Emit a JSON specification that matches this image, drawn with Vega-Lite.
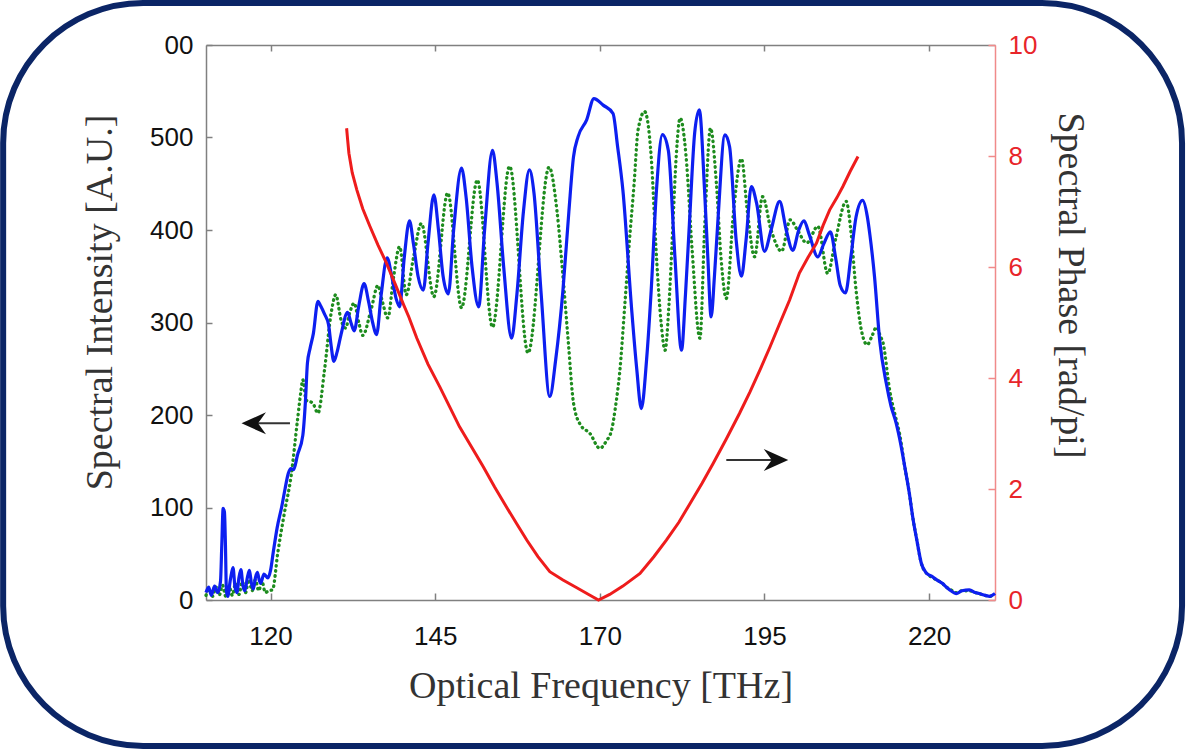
{
  "$schema": "https://vega.github.io/schema/vega-lite/v6.json",
  "width": 789,
  "height": 555,
  "padding": 0,
  "autosize": {"type": "pad"},
  "background": "white",
  "config": {
    "view": {"stroke": null},
    "axis": {
      "grid": false,
      "labelFont": "Liberation Sans",
      "labelFontSize": 26,
      "labelColor": "#111111",
      "titleFont": "Liberation Serif",
      "titleFontSize": 38,
      "titleFontWeight": "normal",
      "titleColor": "#333333",
      "domainColor": "#808080",
      "domainWidth": 1.5,
      "tickColor": "#808080",
      "tickWidth": 1.5
    }
  },
  "datasets": {
    "blue": [
      {"f": 110.2, "I": 8}, {"f": 110.6, "I": 14}, {"f": 111.0, "I": 5}, {"f": 111.5, "I": 15}, {"f": 112.0, "I": 8},
      {"f": 112.4, "I": 20}, {"f": 112.6, "I": 60}, {"f": 112.8, "I": 99}, {"f": 113.0, "I": 95}, {"f": 113.15, "I": 60},
      {"f": 113.3, "I": 10}, {"f": 113.5, "I": 4}, {"f": 113.9, "I": 22}, {"f": 114.3, "I": 35}, {"f": 114.6, "I": 14},
      {"f": 114.9, "I": 8}, {"f": 115.2, "I": 24}, {"f": 115.5, "I": 33}, {"f": 115.8, "I": 16}, {"f": 116.1, "I": 10},
      {"f": 116.5, "I": 25}, {"f": 116.8, "I": 32}, {"f": 117.1, "I": 18}, {"f": 117.4, "I": 12}, {"f": 117.7, "I": 24},
      {"f": 118.0, "I": 30}, {"f": 118.3, "I": 21}, {"f": 118.5, "I": 18}, {"f": 119.0, "I": 28}, {"f": 119.6, "I": 24},
      {"f": 120.0, "I": 32}, {"f": 120.4, "I": 51},
      {"f": 121.0, "I": 78}, {"f": 121.7, "I": 101}, {"f": 122.2, "I": 120}, {"f": 122.7, "I": 137}, {"f": 123.1, "I": 142},
      {"f": 123.5, "I": 141}, {"f": 124.1, "I": 157}, {"f": 124.9, "I": 178}, {"f": 125.3, "I": 215}, {"f": 125.6, "I": 256},
      {"f": 126.0, "I": 272}, {"f": 126.5, "I": 288}, {"f": 127.2, "I": 323}, {"f": 127.6, "I": 318}, {"f": 128.2, "I": 309},
      {"f": 128.8, "I": 298}, {"f": 129.2, "I": 275}, {"f": 129.6, "I": 258}, {"f": 130.1, "I": 268}, {"f": 130.7, "I": 287},
      {"f": 131.7, "I": 311}, {"f": 132.2, "I": 300}, {"f": 132.7, "I": 291}, {"f": 133.4, "I": 318}, {"f": 134.2, "I": 342},
      {"f": 134.9, "I": 322}, {"f": 135.5, "I": 300}, {"f": 136.1, "I": 287}, {"f": 136.8, "I": 330}, {"f": 137.7, "I": 370},
      {"f": 138.4, "I": 350}, {"f": 139.1, "I": 325}, {"f": 139.6, "I": 317}, {"f": 140.3, "I": 370}, {"f": 141.1, "I": 410},
      {"f": 141.7, "I": 385}, {"f": 142.4, "I": 350}, {"f": 143.2, "I": 335}, {"f": 143.9, "I": 385}, {"f": 144.8, "I": 438},
      {"f": 145.5, "I": 400}, {"f": 146.2, "I": 350}, {"f": 147.0, "I": 331}, {"f": 147.8, "I": 400}, {"f": 149.0, "I": 467},
      {"f": 149.7, "I": 435}, {"f": 150.6, "I": 360}, {"f": 151.6, "I": 317}, {"f": 152.5, "I": 400}, {"f": 153.7, "I": 486},
      {"f": 154.4, "I": 450}, {"f": 155.4, "I": 360}, {"f": 156.6, "I": 283}, {"f": 157.4, "I": 330}, {"f": 158.4, "I": 420},
      {"f": 159.3, "I": 465}, {"f": 160.0, "I": 440}, {"f": 161.1, "I": 330}, {"f": 162.4, "I": 220}, {"f": 163.3, "I": 260},
      {"f": 164.4, "I": 335}, {"f": 165.3, "I": 420}, {"f": 166.0, "I": 479}, {"f": 166.7, "I": 501}, {"f": 168.0, "I": 519},
      {"f": 169.1, "I": 542}, {"f": 170.5, "I": 535}, {"f": 172.0, "I": 526}, {"f": 172.7, "I": 490}, {"f": 173.5, "I": 443},
      {"f": 174.8, "I": 317}, {"f": 175.6, "I": 250}, {"f": 176.3, "I": 207}, {"f": 177.1, "I": 260}, {"f": 177.8, "I": 335},
      {"f": 178.6, "I": 443}, {"f": 179.5, "I": 503}, {"f": 180.4, "I": 486}, {"f": 181.4, "I": 371}, {"f": 182.4, "I": 270},
      {"f": 183.0, "I": 330}, {"f": 183.6, "I": 407}, {"f": 184.4, "I": 505}, {"f": 185.1, "I": 530}, {"f": 185.9, "I": 443},
      {"f": 186.4, "I": 370}, {"f": 186.9, "I": 306}, {"f": 187.4, "I": 350}, {"f": 187.9, "I": 407}, {"f": 189.0, "I": 503},
      {"f": 189.7, "I": 490}, {"f": 190.7, "I": 389}, {"f": 191.5, "I": 350}, {"f": 192.2, "I": 389}, {"f": 193.0, "I": 447},
      {"f": 193.8, "I": 429}, {"f": 195.0, "I": 377}, {"f": 196.0, "I": 400}, {"f": 197.3, "I": 431}, {"f": 198.3, "I": 400},
      {"f": 199.3, "I": 378}, {"f": 200.2, "I": 400}, {"f": 201.0, "I": 410}, {"f": 201.8, "I": 395}, {"f": 203.1, "I": 371},
      {"f": 204.0, "I": 385}, {"f": 205.0, "I": 398}, {"f": 205.8, "I": 370}, {"f": 206.5, "I": 340}, {"f": 207.3, "I": 332},
      {"f": 208.1, "I": 370}, {"f": 208.9, "I": 414}, {"f": 209.9, "I": 432}, {"f": 210.6, "I": 415}, {"f": 211.0, "I": 395},
      {"f": 211.7, "I": 350}, {"f": 212.5, "I": 280}, {"f": 213.5, "I": 234}, {"f": 214.2, "I": 210}, {"f": 215.0, "I": 191},
      {"f": 215.7, "I": 168}, {"f": 216.3, "I": 144}, {"f": 217.0, "I": 115}, {"f": 217.5, "I": 90}, {"f": 218.2, "I": 62},
      {"f": 218.8, "I": 40}, {"f": 219.6, "I": 29}, {"f": 220.3, "I": 26}, {"f": 221.1, "I": 22}, {"f": 222.0, "I": 18},
      {"f": 222.6, "I": 14}, {"f": 223.3, "I": 10}, {"f": 224.1, "I": 7}, {"f": 225.0, "I": 10}, {"f": 226.1, "I": 11},
      {"f": 227.0, "I": 8}, {"f": 227.6, "I": 7}, {"f": 228.5, "I": 5}, {"f": 229.2, "I": 4}, {"f": 230.0, "I": 7}
    ],
    "green": [
      {"f": 110.2, "I": 5}, {"f": 110.7, "I": 12}, {"f": 111.2, "I": 4}, {"f": 111.7, "I": 14}, {"f": 112.2, "I": 5},
      {"f": 112.7, "I": 16}, {"f": 113.2, "I": 4}, {"f": 113.7, "I": 15}, {"f": 114.2, "I": 5}, {"f": 114.7, "I": 18},
      {"f": 115.2, "I": 6}, {"f": 115.7, "I": 20}, {"f": 116.2, "I": 8}, {"f": 116.7, "I": 22}, {"f": 117.2, "I": 10},
      {"f": 117.7, "I": 22}, {"f": 118.2, "I": 10}, {"f": 118.7, "I": 20}, {"f": 119.2, "I": 8}, {"f": 119.7, "I": 10},
      {"f": 120.3, "I": 11}, {"f": 121.1, "I": 51}, {"f": 122.1, "I": 94}, {"f": 123.1, "I": 133}, {"f": 124.1, "I": 195},
      {"f": 124.6, "I": 225}, {"f": 124.9, "I": 238}, {"f": 125.4, "I": 216}, {"f": 126.4, "I": 213}, {"f": 127.2, "I": 202},
      {"f": 128.2, "I": 249}, {"f": 129.2, "I": 310}, {"f": 129.9, "I": 330}, {"f": 130.7, "I": 303}, {"f": 131.4, "I": 294},
      {"f": 132.0, "I": 310}, {"f": 132.7, "I": 321}, {"f": 133.4, "I": 300}, {"f": 134.0, "I": 286}, {"f": 135.3, "I": 315},
      {"f": 136.3, "I": 340}, {"f": 137.0, "I": 322}, {"f": 137.8, "I": 305}, {"f": 138.7, "I": 350}, {"f": 139.6, "I": 382},
      {"f": 140.6, "I": 330}, {"f": 141.7, "I": 370}, {"f": 142.9, "I": 407}, {"f": 144.8, "I": 328}, {"f": 146.9, "I": 440},
      {"f": 149.0, "I": 316}, {"f": 151.4, "I": 454}, {"f": 153.7, "I": 295}, {"f": 156.3, "I": 469}, {"f": 159.1, "I": 267},
      {"f": 162.3, "I": 468}, {"f": 163.5, "I": 420}, {"f": 164.4, "I": 350}, {"f": 165.2, "I": 280}, {"f": 166.0, "I": 213},
      {"f": 167.0, "I": 190}, {"f": 168.5, "I": 180}, {"f": 170.0, "I": 164}, {"f": 171.0, "I": 172}, {"f": 171.8, "I": 184},
      {"f": 172.4, "I": 210}, {"f": 173.0, "I": 245}, {"f": 173.8, "I": 320}, {"f": 174.5, "I": 389}, {"f": 175.2, "I": 450},
      {"f": 175.8, "I": 508}, {"f": 176.8, "I": 528}, {"f": 177.8, "I": 479}, {"f": 178.6, "I": 371}, {"f": 179.3, "I": 300},
      {"f": 179.9, "I": 270}, {"f": 180.5, "I": 320}, {"f": 181.1, "I": 407}, {"f": 181.6, "I": 480}, {"f": 182.2, "I": 521},
      {"f": 183.1, "I": 479}, {"f": 184.0, "I": 380}, {"f": 185.2, "I": 283}, {"f": 185.9, "I": 400}, {"f": 186.8, "I": 510},
      {"f": 187.7, "I": 450}, {"f": 188.4, "I": 370}, {"f": 189.2, "I": 326}, {"f": 190.3, "I": 420}, {"f": 191.5, "I": 477},
      {"f": 192.4, "I": 420}, {"f": 193.5, "I": 371}, {"f": 194.7, "I": 436}, {"f": 196.0, "I": 400}, {"f": 197.6, "I": 377},
      {"f": 198.9, "I": 411}, {"f": 200.0, "I": 400}, {"f": 201.4, "I": 386}, {"f": 203.1, "I": 404}, {"f": 204.6, "I": 353},
      {"f": 205.8, "I": 390}, {"f": 207.4, "I": 431}, {"f": 208.1, "I": 400}, {"f": 208.9, "I": 335}, {"f": 209.7, "I": 292},
      {"f": 210.6, "I": 276}, {"f": 211.3, "I": 285}, {"f": 212.0, "I": 295}, {"f": 212.6, "I": 285}, {"f": 213.0, "I": 278},
      {"f": 214.0, "I": 227}, {"f": 215.0, "I": 195}, {"f": 215.5, "I": 180}, {"f": 216.3, "I": 144}, {"f": 217.0, "I": 115},
      {"f": 217.5, "I": 90}, {"f": 218.2, "I": 62}, {"f": 218.8, "I": 40}, {"f": 219.6, "I": 29}, {"f": 220.3, "I": 25},
      {"f": 221.1, "I": 22}, {"f": 222.0, "I": 18}, {"f": 222.6, "I": 14}, {"f": 223.3, "I": 11}, {"f": 224.1, "I": 8},
      {"f": 225.0, "I": 10}, {"f": 226.1, "I": 10}, {"f": 227.0, "I": 8}, {"f": 228.0, "I": 6}, {"f": 229.2, "I": 4},
      {"f": 230.0, "I": 6}
    ],
    "phase": [
      {"f": 131.55, "p": 8.5}, {"f": 131.7, "p": 8.3}, {"f": 131.9, "p": 8.05}, {"f": 132.4, "p": 7.7}, {"f": 133.1, "p": 7.39},
      {"f": 134.0, "p": 7.05}, {"f": 135.1, "p": 6.73}, {"f": 136.3, "p": 6.4}, {"f": 137.6, "p": 6.07}, {"f": 138.9, "p": 5.7},
      {"f": 140.1, "p": 5.35}, {"f": 141.0, "p": 5.1}, {"f": 142.2, "p": 4.72}, {"f": 143.9, "p": 4.25}, {"f": 145.7, "p": 3.84},
      {"f": 147.2, "p": 3.48}, {"f": 148.7, "p": 3.12}, {"f": 150.5, "p": 2.76}, {"f": 152.3, "p": 2.4}, {"f": 154.0, "p": 2.04},
      {"f": 155.8, "p": 1.68}, {"f": 157.4, "p": 1.37}, {"f": 158.9, "p": 1.08}, {"f": 160.6, "p": 0.78}, {"f": 162.4, "p": 0.51},
      {"f": 164.4, "p": 0.36}, {"f": 166.5, "p": 0.22}, {"f": 168.3, "p": 0.1}, {"f": 169.8, "p": 0.0}, {"f": 171.5, "p": 0.1},
      {"f": 173.5, "p": 0.25}, {"f": 176.1, "p": 0.48}, {"f": 178.2, "p": 0.78}, {"f": 180.1, "p": 1.08}, {"f": 182.0, "p": 1.4},
      {"f": 183.7, "p": 1.74}, {"f": 185.5, "p": 2.1}, {"f": 187.2, "p": 2.46}, {"f": 189.2, "p": 2.9}, {"f": 191.2, "p": 3.36},
      {"f": 192.8, "p": 3.75}, {"f": 194.3, "p": 4.14}, {"f": 195.8, "p": 4.55}, {"f": 197.2, "p": 4.95}, {"f": 198.8, "p": 5.4},
      {"f": 200.3, "p": 5.89}, {"f": 201.6, "p": 6.17}, {"f": 202.9, "p": 6.43}, {"f": 203.9, "p": 6.75}, {"f": 204.9, "p": 7.03},
      {"f": 206.0, "p": 7.25}, {"f": 206.9, "p": 7.45}, {"f": 208.0, "p": 7.72}, {"f": 209.2, "p": 7.99}
    ]
  },
  "layer": [
    {
      "data": {"values": [{}]},
      "mark": {"type": "rect", "filled": false, "stroke": "#0b2566", "strokeWidth": 6, "cornerRadius": 140},
      "encoding": {
        "x": {"datum": 79.4, "type": "quantitative", "scale": {"domain": [110.2, 230], "nice": false, "zero": false}, "axis": null},
        "x2": {"datum": 258.4},
        "y": {"datum": 645.4, "type": "quantitative", "scale": {"domain": [0, 600], "nice": false}, "axis": null},
        "y2": {"datum": -157.8}
      }
    },
    {
      "data": {"name": "green"},
      "mark": {"type": "line", "color": "#1e8c1e", "strokeWidth": 3.3, "strokeDash": [0.5, 4.6], "strokeCap": "round", "interpolate": "monotone"},
      "encoding": {
        "x": {"field": "f", "type": "quantitative", "scale": {"domain": [110.2, 230], "nice": false, "zero": false}, "axis": null},
        "y": {"field": "I", "type": "quantitative", "scale": {"domain": [0, 600], "nice": false}, "axis": null}
      }
    },
    {
      "data": {"name": "blue"},
      "mark": {"type": "line", "color": "#0d1ff0", "strokeWidth": 3.2, "interpolate": "monotone"},
      "encoding": {
        "x": {
          "field": "f", "type": "quantitative",
          "scale": {"domain": [110.2, 230], "nice": false, "zero": false},
          "title": "Optical Frequency [THz]",
          "axis": {"orient": "bottom", "values": [120, 145, 170, 195, 220], "format": "d", "tickSize": -7, "labelPadding": 30, "titlePadding": 18}
        },
        "y": {
          "field": "I", "type": "quantitative",
          "scale": {"domain": [0, 600], "nice": false},
          "title": "Spectral Intensity [A.U.]",
          "axis": {"orient": "left", "values": [0, 100, 200, 300, 400, 500, 600], "tickSize": -6, "labelPadding": 19, "titlePadding": 30, "titleY": 257,
                   "labelExpr": "datum.value == 600 ? '00' : datum.label"}
        }
      }
    },
    {
      "data": {"values": [{}]},
      "mark": {"type": "rule", "color": "#333333", "strokeWidth": 2},
      "encoding": {
        "x": {"datum": 117.6, "type": "quantitative", "scale": {"domain": [110.2, 230], "nice": false, "zero": false}, "axis": null},
        "x2": {"datum": 122.95},
        "y": {"datum": 191, "type": "quantitative", "scale": {"domain": [0, 600], "nice": false}, "axis": null}
      }
    },
    {
      "data": {"values": [{}]},
      "mark": {"type": "point", "shape": "M -1 0 L 1 -0.9 L 0.35 0 L 1 0.9 Z", "size": 600, "filled": true, "color": "#111111", "opacity": 1},
      "encoding": {
        "x": {"datum": 117.45, "type": "quantitative", "scale": {"domain": [110.2, 230], "nice": false, "zero": false}, "axis": null},
        "y": {"datum": 191, "type": "quantitative", "scale": {"domain": [0, 600], "nice": false}, "axis": null}
      }
    },
    {
      "data": {"values": [{}]},
      "mark": {"type": "rule", "color": "#333333", "strokeWidth": 2},
      "encoding": {
        "x": {"datum": 189.2, "type": "quantitative", "scale": {"domain": [110.2, 230], "nice": false, "zero": false}, "axis": null},
        "x2": {"datum": 196.6},
        "y": {"datum": 151.4, "type": "quantitative", "scale": {"domain": [0, 600], "nice": false}, "axis": null}
      }
    },
    {
      "data": {"values": [{}]},
      "mark": {"type": "point", "shape": "M 1 0 L -1 -0.9 L -0.35 0 L -1 0.9 Z", "size": 600, "filled": true, "color": "#111111", "opacity": 1},
      "encoding": {
        "x": {"datum": 196.75, "type": "quantitative", "scale": {"domain": [110.2, 230], "nice": false, "zero": false}, "axis": null},
        "y": {"datum": 151.4, "type": "quantitative", "scale": {"domain": [0, 600], "nice": false}, "axis": null}
      }
    },
    {
      "data": {"name": "phase"},
      "mark": {"type": "line", "color": "#ee1c1c", "strokeWidth": 3},
      "encoding": {
        "x": {
          "field": "f", "type": "quantitative",
          "scale": {"domain": [110.2, 230], "nice": false, "zero": false},
          "title": null,
          "axis": {"orient": "top", "values": [120, 145, 170, 195, 220], "labels": false, "tickSize": -6}
        },
        "y": {
          "field": "p", "type": "quantitative",
          "scale": {"domain": [0, 10], "nice": false},
          "title": "Spectral Phase [rad/pi]",
          "axis": {"orient": "right", "values": [0, 2, 4, 6, 8, 10], "tickSize": -7, "labelPadding": 20, "titlePadding": 14, "titleY": 240,
                   "labelColor": "#e8252a", "domainColor": "#f08a8a", "tickColor": "#f08a8a"}
        }
      }
    }
  ],
  "resolve": {"scale": {"y": "independent"}, "axis": {"x": "independent", "y": "independent"}}
}
